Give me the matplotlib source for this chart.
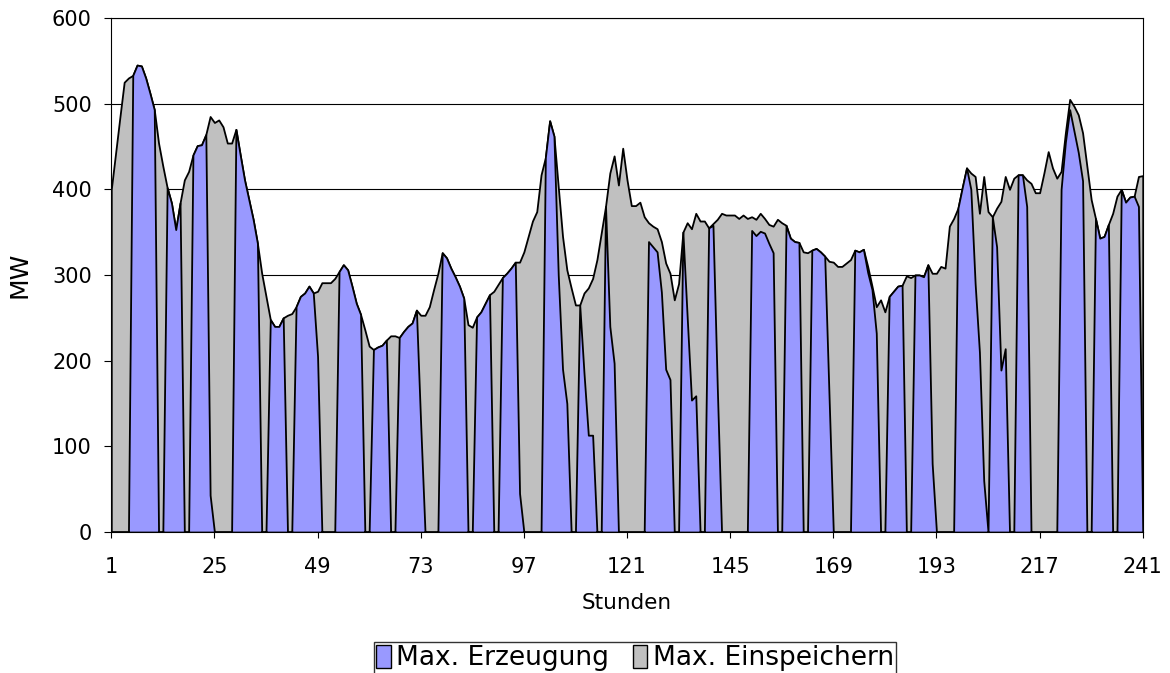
import matplotlib
matplotlib.use("Agg")
import matplotlib.pyplot as plt
from matplotlib.patches import Patch

# ---------------- data ----------------
hours = list(range(1, 242))
xtick_labels = [1, 25, 49, 73, 97, 121, 145, 169, 193, 217, 241]
ytick_values = [0, 100, 200, 300, 400, 500, 600]

max_einspeichern = [
    400, 442, 484, 525, 530, 533, 545, 544, 530, 512,
    493, 454, 427, 402, 384, 353, 384, 411, 421, 440,
    451, 452, 464, 485, 478, 481, 473, 454, 454, 470,
    440, 411, 388, 365, 337, 302, 275, 248, 240, 240,
    250, 253, 255, 263, 275, 279, 287, 279, 281, 291,
    291, 291, 296, 304, 312, 306, 287, 267, 254, 236,
    217, 213, 216, 218, 224, 229, 229, 227, 234, 240,
    244, 259, 253, 253, 263, 283, 302, 326, 320, 308,
    298, 287, 273, 242, 239, 251, 257, 267, 277, 281,
    289, 297, 302, 308, 315, 315, 327, 345, 363, 374,
    417, 437, 480, 462, 403, 345, 306, 285, 265, 265,
    279, 285, 296, 318, 349, 380, 419, 439, 405, 448,
    411, 381, 381, 385, 368, 361, 357, 354, 339, 314,
    302, 271, 290, 350, 361, 354, 372, 363, 363, 355,
    360, 365, 372, 370, 370, 370, 366, 370, 366, 368,
    365, 372, 366, 359, 357, 365, 361, 358, 343, 339,
    338, 327, 326, 329, 331, 327, 322, 316, 315, 310,
    310, 314, 318, 329, 327, 330, 310, 287, 263, 271,
    257, 275, 281, 287, 288, 299, 297, 300, 300, 298,
    312, 302, 302, 310, 308, 357, 366, 378, 402, 425,
    419, 415, 372, 415, 374, 368, 378, 386, 415, 400,
    413, 417, 417, 411, 407, 396, 396, 419, 444, 425,
    413, 421, 466, 505, 497, 487, 466, 427, 388, 366,
    343, 345, 359, 372, 392, 400, 385, 391, 392, 415,
    416,
]

max_erzeugung = [
    0, 0, 0, 0, 0, 533, 545, 544, 530, 512,
    493, 0, 0, 402, 384, 353, 384, 0, 0, 440,
    451, 452, 464, 43, 0, 0, 0, 0, 0, 470,
    440, 411, 388, 365, 337, 0, 0, 248, 240, 240,
    250, 0, 0, 263, 275, 279, 287, 279, 205, 0,
    0, 0, 0, 304, 312, 306, 287, 267, 254, 0,
    0, 213, 216, 218, 224, 0, 0, 227, 234, 240,
    244, 259, 125, 0, 0, 0, 0, 326, 320, 308,
    298, 287, 273, 0, 0, 251, 257, 267, 277, 0,
    0, 297, 302, 308, 315, 45, 0, 0, 0, 0,
    0, 437, 480, 462, 300, 190, 150, 0, 0, 265,
    185, 113, 113, 0, 0, 380, 240, 197, 0, 0,
    0, 0, 0, 0, 0, 339, 333, 327, 280, 190,
    178, 0, 0, 350, 251, 154, 159, 0, 0, 355,
    358, 170, 0, 0, 0, 0, 0, 0, 0, 352,
    346, 351, 349, 337, 326, 0, 0, 358, 343, 339,
    338, 0, 0, 329, 331, 327, 322, 160, 0, 0,
    0, 0, 0, 329, 327, 330, 303, 283, 232, 0,
    0, 275, 281, 287, 288, 0, 0, 300, 300, 298,
    312, 80, 0, 0, 0, 0, 0, 378, 402, 425,
    400, 290, 210, 60, 0, 368, 333, 189, 214, 0,
    0, 417, 417, 380, 0, 0, 0, 0, 0, 0,
    0, 400, 455, 493, 468, 443, 410, 0, 0, 366,
    343, 345, 359, 0, 0, 400, 385, 391, 392, 380,
    0,
]

series_names = ["Max. Erzeugung", "Max. Einspeichern"]
colors = {"Max. Erzeugung": "#9999FF", "Max. Einspeichern": "#C0C0C0"}

# ---------------- plot ----------------
plt.rcParams["font.family"] = ["DejaVu Sans"]
fig = plt.figure(figsize=(11.70, 6.73), dpi=100)
ax = fig.add_axes([0.0951, 0.2095, 0.8816, 0.7638])

ax.fill_between(hours, max_einspeichern, 0, facecolor=colors["Max. Einspeichern"],
                edgecolor="black", linewidth=1.3, zorder=2)
ax.fill_between(hours, max_erzeugung, 0, facecolor=colors["Max. Erzeugung"],
                edgecolor="black", linewidth=1.3, zorder=3)

ax.set_xlim(1, 241)
ax.set_ylim(0, 600)
ax.set_xticks(xtick_labels)
ax.set_xticklabels([str(v) for v in xtick_labels])
ax.set_yticks(ytick_values)
ax.yaxis.grid(True, color="black", linewidth=0.8, zorder=1)
ax.set_axisbelow(True)

ax.tick_params(axis="x", direction="out", length=4.5, width=0.8, pad=13.5, labelsize=15)
ax.tick_params(axis="y", direction="out", length=5, width=0.8, pad=9, labelsize=15)
for s in ax.spines.values():
    s.set_color("black")
    s.set_linewidth(0.8)

ax.set_xlabel("Stunden", fontsize=15.5)
ax.xaxis.set_label_coords(0.5, -0.118)
ax.set_ylabel("MW", fontsize=18)
ax.yaxis.set_label_coords(-0.077, 0.5)

handles = [Patch(facecolor=colors[n], edgecolor="black", linewidth=1.0) for n in series_names]
leg = fig.legend(handles, series_names, loc="upper center", bbox_to_anchor=(0.5427, 0.0461),
                 ncol=2, fontsize=19, frameon=True, fancybox=False, edgecolor="black",
                 handlelength=0.55, handleheight=1.0, handletextpad=0.2, columnspacing=0.9,
                 borderpad=0.1, borderaxespad=0.0)
leg.get_frame().set_linewidth(1.0)

fig.savefig("out.png", dpi=100)
